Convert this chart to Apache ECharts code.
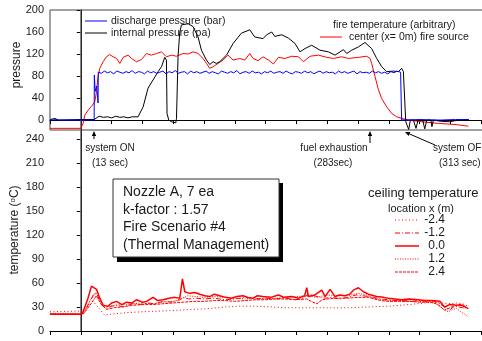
<!DOCTYPE html>
<html>
<head>
    <meta charset="utf-8">
    <title>Nozzle A fire scenario</title>
    <style>
        html, body { margin: 0; padding: 0; background: #fff; }
    </style>
</head>
<body>
<div id="main" style="width: 482px;height:341px;"></div>
<script src="https://cdn.jsdelivr.net/npm/echarts@6/dist/echarts.min.js"></script>
<script type="text/javascript">
    // axis ticks
    var pressTicks = [0, 40, 80, 120, 160, 200];
    var pressMinor = [20, 60, 100, 140, 180];
    var tempTicks = [0, 30, 60, 90, 120, 150, 180, 210, 240];
    var tempMinor = [15, 45, 75, 105, 135, 165, 195, 225];

    // system ON reference line (t = 0)
    var zeroTop = [[0, -18], [0, 200]];
    var zeroBottom = [[0, 0], [0, 251]];

    // top panel: [time (sec), value]
    var dischargeHead = [[-30, 0], [-24, 0.8], [-20, 0], [0, 0], [13, 0], [13.2, 82], [14, 52], [15.5, 62], [16.8, 31], [17, 87]];
    // discharge plateau, read every 3 sec from t = 20
    var dischargeStart = 20, dischargeStep = 3;
    var dischargeNoise = [85, 89, 86, 88, 84, 89, 87, 85, 88, 86, 90, 85, 88, 87, 84, 89, 86, 88, 85, 87,
        89, 84, 88, 86, 90, 85, 87, 88, 84, 89, 86, 88, 85, 87, 89, 85, 88, 86, 84, 89,
        87, 85, 88, 86, 90, 84, 87, 88, 85, 89, 86, 87, 84, 88, 86, 89, 85, 87, 88, 85,
        89, 86, 84, 88, 87, 85, 89, 86, 88, 84, 87, 89, 85, 88, 86, 87, 84, 89, 86, 88,
        85, 87, 89, 84, 88, 86, 87, 85, 89, 86, 88, 85, 87, 84, 88, 86, 89];
    var dischargeTail = [[311.5, 87], [312.5, 0], [330, 1], [350, 0], [365, 1], [378, 1]];

    var internalP = [[-30, 1], [-25, 3], [-22, 0], [0, 1], [13, 1], [13.6, 2], [17.8, 7], [22, 5], [26, 6], [30, 4],
        [34, 7], [38, 5], [42, 6], [46, 4], [50, 6], [55.8, 6], [60.7, 24], [65.5, 58], [70.4, 73], [75.3, 88],
        [78.6, 97], [81.8, 114], [83.4, 109], [84, 12], [85.7, 0], [88.3, -3], [92.5, -5], [93.2, 3], [94.7, 115],
        [96.4, 160], [98.1, 173], [104.5, 175], [109.3, 170], [114.2, 151], [117.5, 127], [122.4, 109], [125.6, 101],
        [128.8, 106], [132.1, 103], [135.3, 106], [141.9, 118], [148.3, 139], [156.5, 158], [164.6, 164],
        [169.4, 151], [177.5, 148], [181, 155], [186, 160], [188.9, 152], [195.7, 155], [202.2, 149], [208.7, 139],
        [213.5, 124], [218.4, 130], [224.9, 136], [233, 127], [241.2, 124], [247.6, 118], [255.8, 128], [259, 121],
        [263.9, 127], [270.4, 133], [276.8, 141], [283.3, 130], [288.2, 112], [293.1, 97], [298, 88], [304.5, 89],
        [309.3, 88], [312.6, 94], [314.2, 88], [316.5, -3], [319.4, -17], [321, 0], [324, 0], [326.5, -15],
        [328.5, 0], [333, 0], [335, -16], [337, 0], [341, 0], [342, -12], [343.5, 0], [350, -2], [359, -3],
        [365, -1], [377.8, 1]];

    var fireTemp = [[-30, -15], [0, -15], [0.7, -12], [2.2, -6], [3.9, 9], [7.1, 18], [10.4, 25], [13.6, 33],
        [15.3, 52], [16.8, 79], [18.5, 94], [21.7, 106], [25, 115], [28.2, 119], [31.5, 115], [34.8, 112],
        [38, 103], [41.2, 114], [46.1, 118], [49.4, 112], [54.2, 106], [59.1, 110], [64, 121], [68.8, 118],
        [73.7, 121], [78.6, 124], [83.4, 115], [88.3, 118], [93.2, 116], [99.6, 121], [104.5, 120], [109.3, 124],
        [114.2, 121], [119.1, 112], [122.4, 103], [125.6, 94], [128.8, 97], [133.7, 103], [138.6, 109],
        [143.4, 118], [148.3, 109], [154.8, 112], [159.7, 109], [164.6, 121], [167.8, 112], [172.6, 108],
        [177.5, 115], [182.8, 109], [187.6, 102], [192.5, 114], [198.9, 112], [205.5, 116], [212, 115],
        [216.8, 106], [218.4, 103], [223.3, 116], [231.5, 118], [239.5, 114], [246.1, 112], [254.1, 115],
        [260.7, 112], [270.4, 114], [278.5, 116], [281.7, 112], [283.3, 103], [286.6, 79], [289.9, 55],
        [293.1, 39], [298, 24], [302.8, 12], [307.7, 6], [312.6, 3], [319.1, 0], [332, -3], [348.3, -6],
        [364.5, -8], [377.5, -11]];

    // bottom panel: ceiling temperature by location x (m)
    var ceilM24 = [[-30, 24], [0, 25], [5, 28], [12, 37], [18, 28], [23, 20], [30, 21], [45, 23], [60, 24], [80, 25],
        [95, 26], [110, 27], [125, 28], [140, 30], [155, 31], [170, 31], [185, 30], [200, 29], [220, 29],
        [240, 29], [260, 29], [280, 30], [300, 31], [320, 33], [335, 35], [345, 36], [352, 35], [360, 34],
        [366, 35], [372, 34], [377, 31]];
    var ceilM12 = [[-30, 21], [0, 21], [3, 22], [8, 35], [13, 47], [16, 45], [20, 33], [25, 28], [30, 31], [35, 32],
        [42, 30], [50, 34], [58, 33], [65, 35], [72, 34], [80, 37], [88, 36], [95, 38], [100, 42], [105, 40],
        [112, 41], [120, 40], [130, 41], [140, 39], [150, 40], [160, 42], [170, 40], [180, 41], [190, 40],
        [200, 41], [208, 39], [215, 40], [222, 46], [230, 43], [238, 41], [245, 42], [252, 40], [260, 42],
        [268, 45], [275, 44], [285, 42], [292, 40], [300, 39], [308, 38], [315, 38], [322, 37], [330, 38],
        [338, 37], [345, 37], [350, 34], [355, 29], [360, 27], [364, 31], [368, 30], [372, 29], [375, 28]];
    var ceil00 = [[-30, 21], [-15, 21], [0, 21], [2, 23], [7, 41], [10.4, 56], [12, 57.5], [15.3, 52], [18.5, 41],
        [21.7, 32], [26.6, 31], [30, 35], [34.8, 37], [40, 33], [44.5, 36], [50, 35], [54.2, 39], [60, 36],
        [64, 37], [70.4, 42], [75, 38], [80.1, 39], [86, 41], [91.5, 42], [96.4, 41], [99, 65], [101.3, 49],
        [106.1, 47], [111, 48], [115.9, 46], [121, 44], [125.6, 43], [130, 46], [135.3, 44], [141, 42],
        [146.7, 41], [152, 43], [158, 44], [163, 42], [167.8, 41], [172, 44], [177.5, 43], [185, 42],
        [192.5, 45], [198, 42], [205.5, 43], [212, 41], [218, 44], [220.1, 54], [221.7, 43], [228, 45],
        [234.7, 51], [237.9, 43], [242.8, 52], [247.6, 43], [252, 45], [257.4, 44], [262, 46], [265.5, 51],
        [270.4, 54], [275.3, 49], [280.1, 46], [288.2, 43], [295, 42], [299.6, 41], [306, 40], [312.6, 39],
        [320, 40], [328.8, 39], [335, 38], [341.8, 38], [349.9, 37], [352, 33], [354.7, 30], [359, 33],
        [364.5, 32.5], [371, 32], [377.5, 28]];
    var ceil12 = [[-30, 22], [0, 22], [4, 25], [10, 40], [15, 48], [20, 36], [25, 30], [32, 32], [40, 33], [50, 34],
        [60, 35], [70, 34], [80, 36], [90, 37], [98, 40], [104, 44], [112, 43], [120, 42], [130, 43], [140, 42],
        [150, 41], [160, 40], [170, 41], [180, 40], [190, 41], [200, 42], [210, 43], [220, 44], [230, 42],
        [240, 45], [250, 44], [260, 44], [270, 47], [278, 45], [285, 41], [292, 39], [300, 38], [310, 38],
        [320, 37], [330, 37], [340, 36], [346, 35], [350, 30], [355, 26], [358, 24], [362, 27], [366, 28],
        [370, 24], [374, 21], [377, 18]];
    var ceil24 = [[-30, 21], [0, 21], [3, 22], [10, 34], [15, 44], [20, 33], [25, 27], [32, 29], [40, 30], [50, 32],
        [60, 33], [70, 33], [80, 34], [90, 35], [100, 36], [110, 37], [120, 37], [130, 38], [140, 38], [150, 37],
        [160, 38], [170, 39], [180, 39], [190, 40], [200, 40], [210, 39], [220, 40], [226, 36], [230, 34],
        [235, 39], [240, 40], [250, 41], [260, 41], [270, 42], [280, 42], [286, 40], [292, 38], [300, 37],
        [310, 37], [320, 37], [330, 36], [340, 36], [346, 34], [350, 31], [354, 26], [358, 28], [363, 31],
        [368, 33], [372, 33], [376, 29]];

    var discharge = dischargeHead.slice();
    dischargeNoise.forEach(function (v, i) {
        discharge.push([dischargeStart + i * dischargeStep, v]);
    });
    discharge = discharge.concat(dischargeTail);

    var FONT = 'Liberation Sans, Arial, sans-serif';
    var INK = '#1a1a1a';
    var RED = '#ff0000';

    // line styles for the ceiling series (also used by the hand drawn key)
    var ceilSeries = [
        {name: '-2.4', data: ceilM24, width: 1, dash: [1, 2.5]},
        {name: '-1.2', data: ceilM12, width: 1, dash: [5, 2, 1, 2]},
        {name: '0.0', data: ceil00, width: 1.5, dash: 'solid'},
        {name: '1.2', data: ceil12, width: 1, dash: [1, 1.5]},
        {name: '2.4', data: ceil24, width: 1, dash: [3, 1]}
    ];

    var myChart = echarts.init(document.getElementById('main'));

    function xAxisFor(grid) {
        return {
            type: 'value', gridIndex: grid, min: -30, max: 420, interval: 30,
            axisLine: {lineStyle: {color: '#000', width: 1}},
            axisTick: {inside: false, length: 4, lineStyle: {color: '#000'}},
            axisLabel: {show: false},
            splitLine: {show: false}
        };
    }
    function yMajor(grid, min, max, ticks) {
        return {
            type: 'value', gridIndex: grid, min: min, max: max,
            axisLine: {show: true, lineStyle: {color: '#000', width: 1}},
            axisTick: {show: true, length: 4, customValues: ticks, lineStyle: {color: '#000'}},
            axisLabel: {customValues: ticks, fontSize: 11, color: INK, fontFamily: FONT, margin: 6},
            splitLine: {show: false}
        };
    }
    function yMinor(grid, min, max, ticks) {
        return {
            type: 'value', gridIndex: grid, min: min, max: max,
            axisLine: {show: false},
            axisTick: {show: true, length: 2, customValues: ticks, lineStyle: {color: '#000'}},
            axisLabel: {show: false},
            splitLine: {show: false}
        };
    }
    function line(name, data, color, width, dash, x, y, z) {
        return {
            name: name, type: 'line', data: data, xAxisIndex: x, yAxisIndex: y,
            symbol: 'none', lineStyle: {color: color, width: width, type: dash},
            itemStyle: {color: color}, z: z || 3, silent: true
        };
    }

    function arrow(x1, y1, x2, y2) {
        var a = Math.atan2(y2 - y1, x2 - x1), L = 5, W = 2.2;
        var bx = x2 - L * Math.cos(a), by = y2 - L * Math.sin(a);
        var px = -Math.sin(a) * W, py = Math.cos(a) * W;
        return [
            {type: 'line', shape: {x1: x1, y1: y1, x2: bx, y2: by}, style: {stroke: '#000', lineWidth: 1}, z: 20},
            {type: 'polygon', shape: {points: [[x2, y2], [bx + px, by + py], [bx - px, by - py]]}, style: {fill: '#000'}, z: 20}
        ];
    }
    function label(text, x, y, size, align, extra) {
        var st = {text: text, x: 0, y: 0, fill: INK, fontSize: size, fontFamily: FONT,
            align: align, textAlign: align, verticalAlign: 'middle', textVerticalAlign: 'middle'};
        if (extra) for (var k in extra) st[k] = extra[k];
        return {type: 'text', x: x, y: y, style: st, z: 20};
    }
    function keyLine(x1, x2, y, color, width, dash) {
        return {type: 'line', shape: {x1: x1, y1: y, x2: x2, y2: y},
            style: {stroke: color, lineWidth: width, lineDash: dash === 'solid' ? null : dash}, z: 20};
    }

    var boxLines = ['Nozzle A, 7 ea', 'k-factor : 1.57', 'Fire Scenario #4', '(Thermal Management)'];

    var graphics = [
        // top keys
        keyLine(85, 107, 21, '#0000ff', 1, 'solid'),
        label('discharge pressure (bar)', 111, 21, 10.5, 'left'),
        keyLine(85, 107, 33, '#000', 1, 'solid'),
        label('internal pressure (pa)', 111, 33, 10.5, 'left'),
        label('fire temperature (arbitrary)', 333, 25, 10.5, 'left'),
        keyLine(320, 342, 37, RED, 1, 'solid'),
        label('center (x= 0m) fire source', 349, 37, 10.5, 'left'),
        // event notes
        label('system ON', 110, 148, 10, 'center'),
        label('(13 sec)', 110, 163, 10, 'center'),
        label('fuel exhaustion', 334, 148, 10, 'center'),
        label('(283sec)', 333, 163, 10, 'center'),
        label('system OFF', 433, 148, 10, 'left'),
        label('(313 sec)', 439, 163, 10, 'left'),
        label('ceiling temperature', 368, 193, 13, 'left'),
        label('location x (m)', 388, 209, 11, 'left'),
        {type: 'text', x: 17, y: 65, rotation: Math.PI / 2,
            style: {text: 'pressure', fill: INK, fontSize: 12, fontFamily: FONT,
                align: 'center', textAlign: 'center', verticalAlign: 'middle', textVerticalAlign: 'middle'}, z: 20},
        {type: 'text', x: 15, y: 230, rotation: Math.PI / 2,
            style: {text: 'temperature ({s|o}C)', fill: INK, fontSize: 12, fontFamily: FONT,
                align: 'center', textAlign: 'center', verticalAlign: 'middle', textVerticalAlign: 'middle',
                rich: {s: {fontSize: 8, fontFamily: FONT, fill: INK, verticalAlign: 'top'}}}, z: 20},
        {type: 'rect', shape: {x: 117, y: 183, width: 166, height: 79}, style: {fill: '#000'}, z: 18},
        {type: 'rect', shape: {x: 113, y: 179, width: 166, height: 78}, style: {fill: '#fff', stroke: '#333', lineWidth: 1}, z: 19}
    ];
    boxLines.forEach(function (t, i) {
        graphics.push(label(t, 123, 192 + i * 17.7, 14, 'left'));
    });
    ceilSeries.forEach(function (c, i) {
        var y = 220 + i * 13;
        graphics.push(keyLine(395, 419, y, RED, c.width, c.dash));
        graphics.push(label(c.name, 445, y, 12, 'right'));
    });
    graphics = graphics.concat(arrow(94, 139, 94, 131), arrow(370, 143, 370, 131), arrow(435, 145, 405, 132));

    var series = [
        line('t0 top', zeroTop, '#6a6a6a', 1.2, 'solid', 0, 0, 2),
        line('t0 bottom', zeroBottom, '#6a6a6a', 1.2, 'solid', 1, 2, 2),
        line('center (x= 0m) fire source', fireTemp, RED, 1, 'solid', 0, 0),
        line('internal pressure (pa)', internalP, '#000000', 1, 'solid', 0, 0),
        line('discharge pressure (bar)', discharge, '#0000ff', 1, 'solid', 0, 0)
    ];
    ceilSeries.forEach(function (c) {
        series.push(line(c.name, c.data, RED, c.width, c.dash, 1, 2));
    });

    myChart.setOption({
        animation: false,
        backgroundColor: '#fff',
        textStyle: {fontFamily: FONT},
        grid: [
            {left: 50, top: 10, width: 462, height: 120, outerBoundsMode: 'none', containLabel: false,
                show: true, borderColor: '#444', borderWidth: 1, backgroundColor: 'transparent'},
            {left: 50, top: 130, width: 462, height: 201, outerBoundsMode: 'none', containLabel: false}
        ],
        xAxis: [xAxisFor(0), xAxisFor(1)],
        yAxis: [
            yMajor(0, -18, 200, pressTicks), yMinor(0, -18, 200, pressMinor),
            yMajor(1, 0, 251, tempTicks), yMinor(1, 0, 251, tempMinor)
        ],
        series: series,
        graphic: graphics
    });
</script>
</body>
</html>
